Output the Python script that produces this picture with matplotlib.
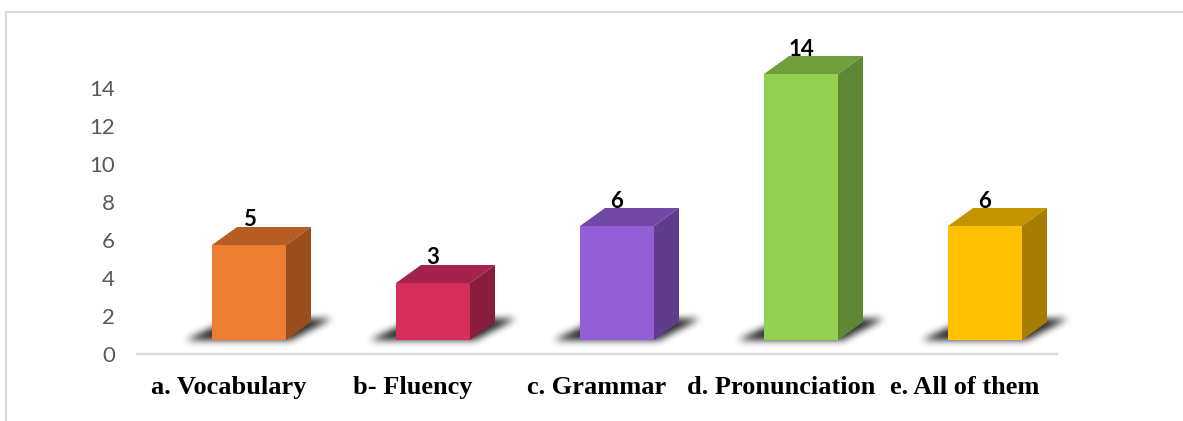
import numpy as np
import matplotlib.pyplot as plt
from matplotlib.patches import Polygon
from matplotlib.lines import Line2D
from matplotlib.path import Path

# Data
categories = ['a. Vocabulary', 'b- Fluency', 'c. Grammar', 'd. Pronunciation', 'e. All of them']
values = [5, 3, 6, 14, 6]
front_colors = ['#ED7D31', '#D52E5C', '#935FD6', '#92D050', '#FFC000']
top_colors = ['#B55D22', '#A4234A', '#7148A5', '#6F9E3C', '#C49300']
side_colors = ['#9A4E1D', '#891D3E', '#5F3C8C', '#5E8833', '#A67D00']
yticks = [0, 2, 4, 6, 8, 10, 12, 14]

W, H = 1183, 421
fig = plt.figure(figsize=(W / 100, H / 100), dpi=100)
ax = fig.add_axes([137 / W, (H - 354) / H, 920 / W, 324 / H])
ax.set_xlim(-0.5, 4.5)
ax.set_ylim(0, 324 / 19)

# pixel -> data conversions
px_x = 1 / 184.0
px_y = 1 / 19.0

base = 14 * px_y          # front face floats above the floor
dx = 25 * px_x            # depth offset
dy = 18 * px_y
x_off = -17 * px_x
w = 74 * px_x


def blur(a, r, n=3):
    # repeated box blur ~ gaussian
    k = np.ones(2 * r + 1) / (2 * r + 1)
    for _ in range(n):
        a = np.apply_along_axis(lambda m: np.convolve(m, k, mode='same'), 0, a)
        a = np.apply_along_axis(lambda m: np.convolve(m, k, mode='same'), 1, a)
    return a


# shadow mask in pixel space, relative to the front face bottom-left corner
sx = np.arange(-50, 150) + 0.5
sy = np.arange(-20, 45) + 0.5
gx, gy = np.meshgrid(sx, sy)
shadow_poly = Path([[-27, -1], [78, -1], [120, 21], [18, 21]])
mask = shadow_poly.contains_points(np.c_[gx.ravel(), gy.ravel()]).reshape(gx.shape)
soft = blur(mask.astype(float), 3)
rgba = np.zeros(soft.shape + (4,))
rgba[..., :3] = 0.12
rgba[..., 3] = np.clip(soft * 0.95, 0, 1)

for i, v in enumerate(values):
    x0 = i + x_off
    x1 = x0 + w
    y0 = base
    y1 = base + v
    ax.imshow(rgba, origin='lower', interpolation='bilinear', aspect='auto', zorder=1,
              clip_on=False,
              extent=[x0 + sx[0] * px_x, x0 + sx[-1] * px_x,
                      y0 + sy[0] * px_y, y0 + sy[-1] * px_y])
    # front
    ax.add_patch(Polygon([[x0, y0], [x1, y0], [x1, y1], [x0, y1]], closed=True,
                         facecolor=front_colors[i], edgecolor='none', zorder=3))
    # top
    ax.add_patch(Polygon([[x0, y1], [x1, y1], [x1 + dx, y1 + dy], [x0 + dx, y1 + dy]],
                         closed=True, facecolor=top_colors[i], edgecolor='none', zorder=3))
    # side
    ax.add_patch(Polygon([[x1, y0], [x1 + dx, y0 + dy], [x1 + dx, y1 + dy], [x1, y1]],
                         closed=True, facecolor=side_colors[i], edgecolor='none', zorder=3))
    ax.text((x0 + x1) / 2, y1 + 25 * px_y, str(v), ha='center', va='center',
            fontsize=16, fontweight='bold', family='Lato', color='black', zorder=5)

ax.set_xlim(-0.5, 4.5)
ax.set_ylim(0, 324 / 19)
ax.set_yticks(yticks)
ax.set_yticklabels([str(t) for t in yticks], family='Lato', fontsize=16, color='#595959')
ax.set_xticks(range(len(categories)))
ax.set_xticklabels(categories, family='Liberation Serif', fontweight='bold',
                   fontsize=19, color='black')
ax.tick_params(axis='y', length=0, pad=16)
ax.tick_params(axis='x', length=0, pad=16)

for sp in ['top', 'right', 'left']:
    ax.spines[sp].set_visible(False)
ax.spines['bottom'].set_color('#D9D9D9')
ax.spines['bottom'].set_linewidth(1.6)

# chart border (partially visible)
fig.add_artist(Line2D([6 / W, 1], [1 - 12 / H, 1 - 12 / H], color='#D9D9D9', lw=1.5))
fig.add_artist(Line2D([6 / W, 6 / W], [0, 1 - 12 / H], color='#D9D9D9', lw=1.5))

fig.savefig('out.png', dpi=100, facecolor='white')
